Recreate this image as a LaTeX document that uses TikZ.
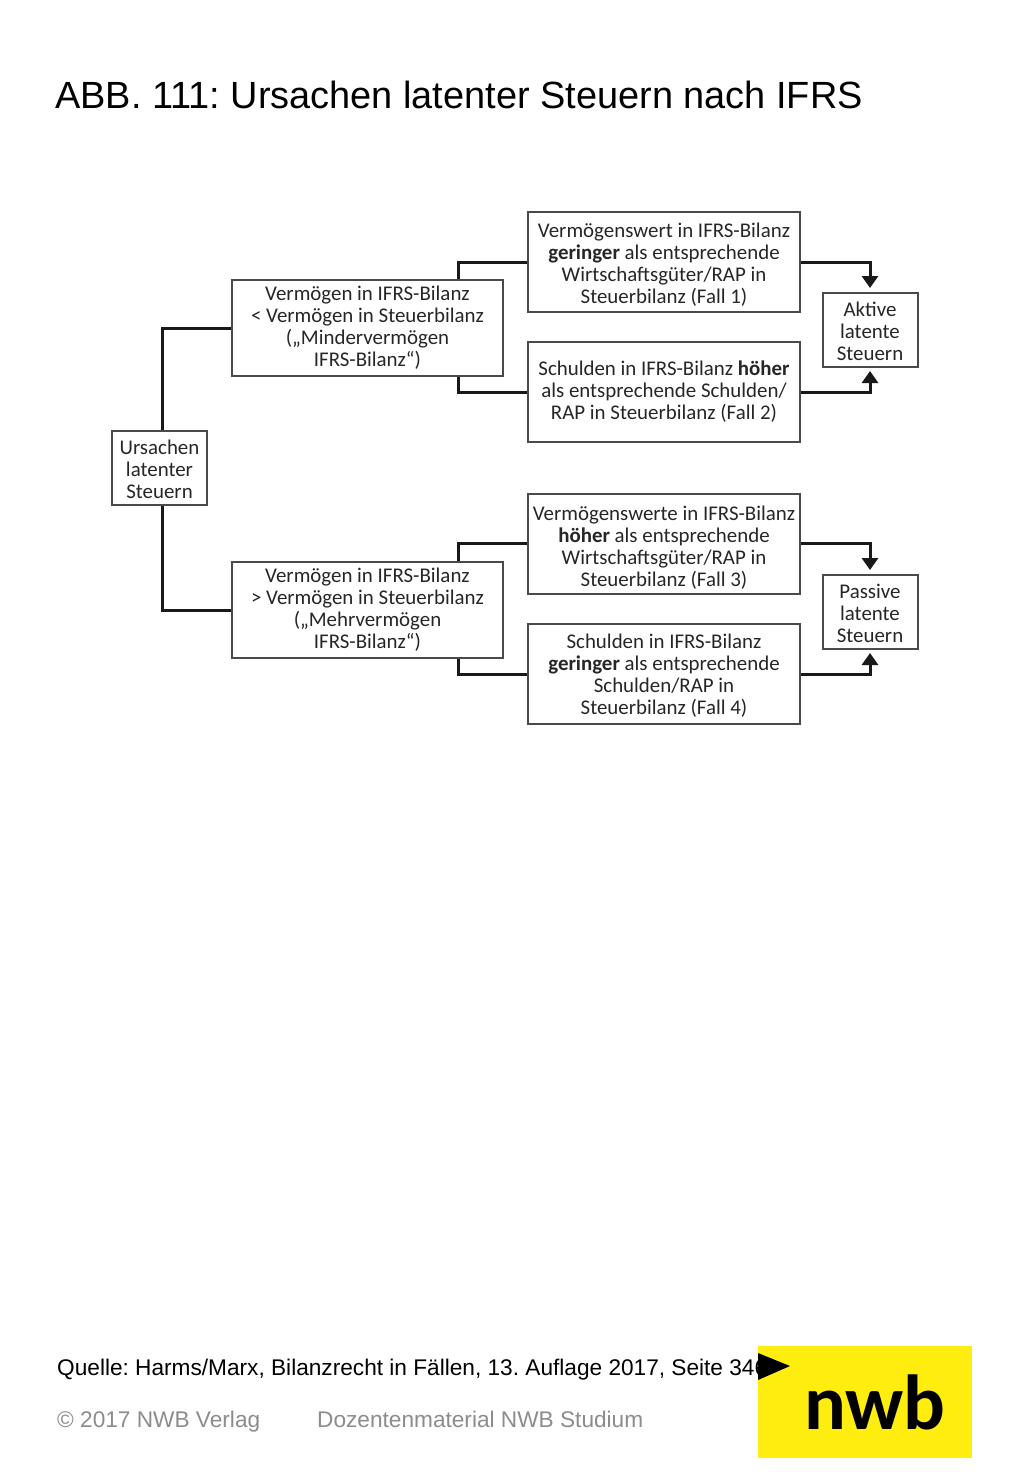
\documentclass[tikz,border=0pt]{standalone}
\usepackage{fontspec}
\usepackage{xcolor}
\usetikzlibrary{arrows.meta}
\setmainfont{Liberation Sans}
\newfontfamily\boxfont{Carlito}
\definecolor{nwbyellow}{HTML}{FFED10}
\definecolor{footgray}{HTML}{8C8C8C}
\definecolor{boxgray}{HTML}{4A4A4A}
\frenchspacing
\begin{document}
\begin{tikzpicture}[x=1pt,y=-1pt,
    box/.style={draw=boxgray,line width=2pt,fill=white,inner sep=0pt,align=center,text=black!85,
        font=\boxfont\fontsize{20.9}{22}\selectfont},
    smallbox/.style={box,minimum width=95pt,minimum height=74pt},
    midbox/.style={box,minimum width=271pt,minimum height=96pt},
    casebox/.style={box,minimum width=272pt,minimum height=100pt},
    line/.style={line width=3pt,black!90},
    arrow/.style={line,-{Triangle[length=12pt,width=16pt]}}]
    \useasboundingbox (0,0) rectangle (1024,1479);

    % Add title
    \node[anchor=base west,inner sep=0pt,font=\fontsize{37.9}{40}\selectfont] (title) at (55,109) {ABB. 111: Ursachen latenter Steuern nach IFRS};

    % Draw boxes
    \node[smallbox] (ursachen) at (159.5,468) {\rule{0pt}{17pt}Ursachen\\latenter\\Steuern};
    \node[midbox] (minder) at (367.5,328) {Vermögen in IFRS-Bilanz\\< Vermögen in Steuerbilanz\\(„Mindervermögen\\IFRS-Bilanz“)};
    \node[midbox] (mehr) at (367.5,610) {Vermögen in IFRS-Bilanz\\> Vermögen in Steuerbilanz\\(„Mehrvermögen\\IFRS-Bilanz“)};
    \node[casebox] (fall1) at (664,262) {\rule{0pt}{19pt}Vermögenswert in IFRS-Bilanz\\\textbf{geringer} als entsprechende\\Wirtschaftsgüter/RAP in\\Steuerbilanz (Fall 1)};
    \node[casebox] (fall2) at (664,392) {Schulden in IFRS-Bilanz \textbf{höher}\\als entsprechende Schulden/\\RAP in Steuerbilanz (Fall 2)};
    \node[casebox] (fall3) at (664,543.5) {\rule{0pt}{23pt}Vermögenswerte in IFRS-Bilanz\\\textbf{höher} als entsprechende\\Wirtschaftsgüter/RAP in\\Steuerbilanz (Fall 3)};
    \node[casebox] (fall4) at (664,674) {\rule{0pt}{17pt}Schulden in IFRS-Bilanz\\\textbf{geringer} als entsprechende\\Schulden/RAP in\\Steuerbilanz (Fall 4)};
    \node[smallbox] (aktiv) at (870,330) {\rule{0pt}{17pt}Aktive\\latente\\Steuern};
    \node[smallbox] (passiv) at (870,612) {\rule{0pt}{17pt}Passive\\latente\\Steuern};

    % Add connectors
    \draw[line] ([xshift=2.5pt]ursachen.north) |- (minder.west);
    \draw[line] ([xshift=2.5pt]ursachen.south) |- (mehr.west);
    \foreach \mid/\upper/\lower in {minder/fall1/fall2,mehr/fall3/fall4}
    {
        \draw[line] ([xshift=91pt]\mid.north) |- (\upper.west);
        \draw[line] ([xshift=91pt]\mid.south) |- (\lower.west);
    }

    % Add arrows
    \draw[arrow] (fall1.east) -| ([yshift=4pt]aktiv.north);
    \draw[arrow] (fall2.east) -| ([yshift=-3pt]aktiv.south);
    \draw[arrow] (fall3.east) -| ([yshift=4pt]passiv.north);
    \draw[arrow] (fall4.east) -| ([yshift=-3pt]passiv.south);

    % Add footer
    \node[anchor=base west,inner sep=0pt,font=\fontsize{22.65}{24}\selectfont] (quelle) at (57,1375) {Quelle: Harms/Marx, Bilanzrecht in Fällen, 13. Auflage 2017, Seite 346};
    \node[anchor=base west,inner sep=0pt,text=footgray,font=\fontsize{22.65}{24}\selectfont] (verlag) at (57,1427) {© 2017 NWB Verlag};
    \node[anchor=base west,inner sep=0pt,text=footgray,font=\fontsize{22.65}{24}\selectfont] (studium) at (317,1427) {Dozentenmaterial NWB Studium};

    % Add logo
    \node[fill=nwbyellow,inner sep=0pt,minimum width=214pt,minimum height=112pt] (logo) at (865,1402) {};
    \node[anchor=base,inner sep=0pt,font=\boxfont\bfseries\fontsize{78}{78}\selectfont] (nwb) at (875,1429) {nwb};
    \fill[black] (758,1353) -- (790,1366) -- (758,1380) -- cycle;
\end{tikzpicture}
\end{document}
